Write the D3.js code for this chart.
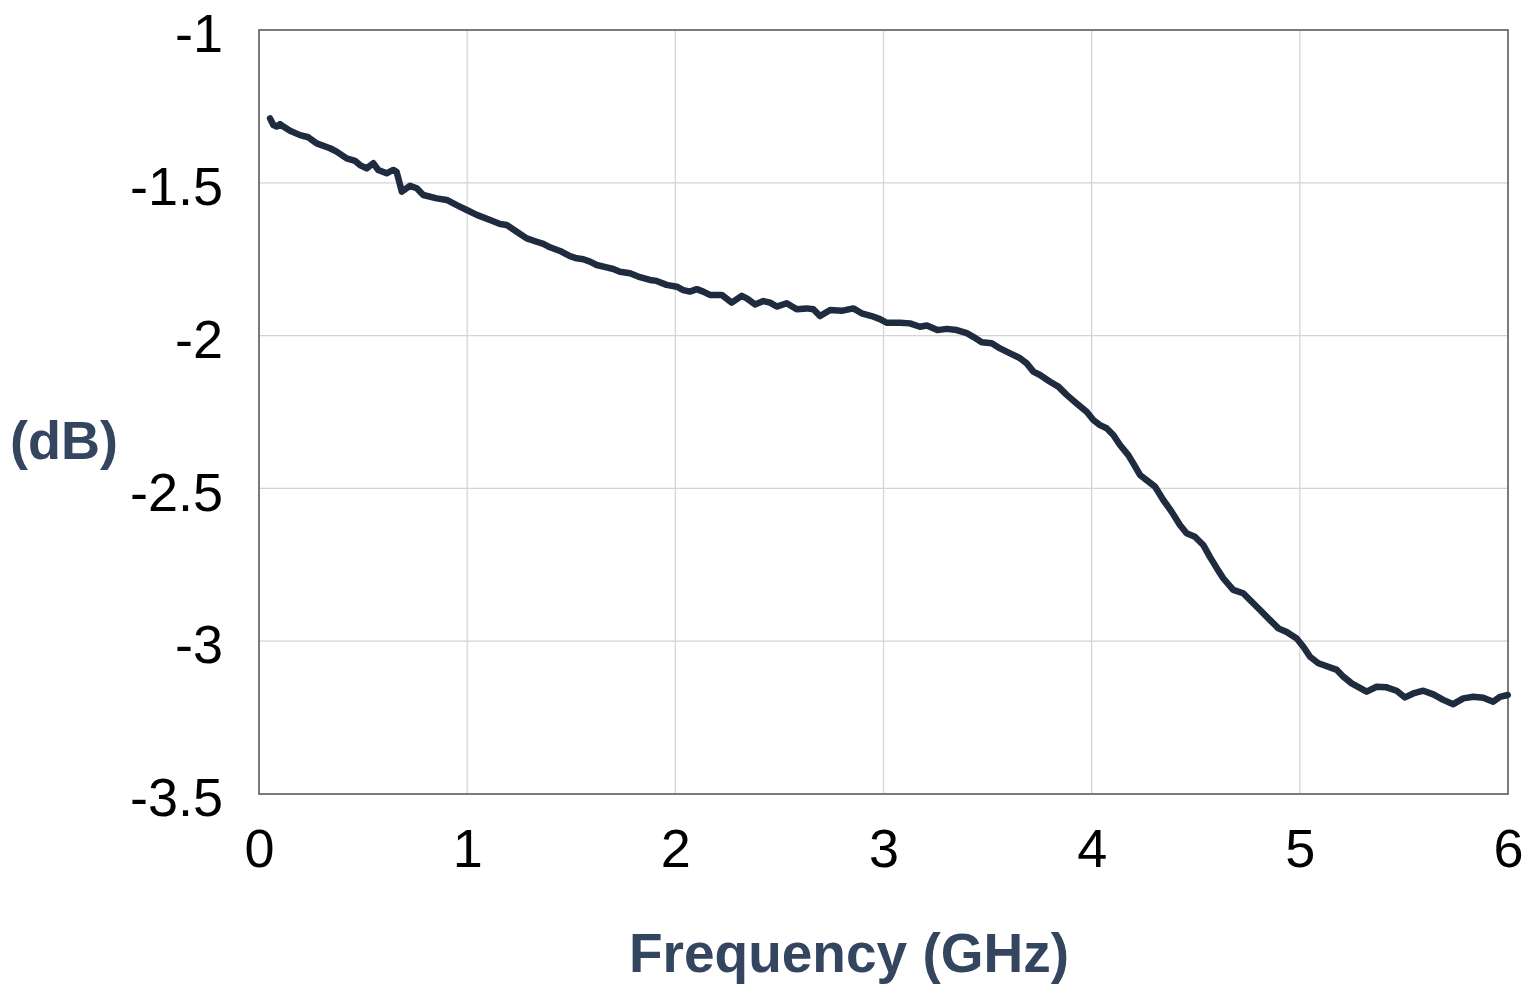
<!DOCTYPE html>
<html>
<head>
<meta charset="utf-8">
<script src="https://cdn.jsdelivr.net/npm/d3@7"></script>
<style>
  html, body { margin: 0; padding: 0; background: #fff; }
  svg { display: block; }
</style>
</head>
<body>
<svg id="chart" width="1536" height="997"></svg>
<script>
// ---- data ----
const freqGHz = [0.053,0.069,0.085,0.101,0.117,0.149,0.197,0.237,0.277,0.341,0.373,0.421,0.461,0.485,0.517,0.549,0.573,0.613,0.645,0.661,0.686,0.725,0.758,0.789,0.854,0.902,0.950,0.998,1.046,1.110,1.158,1.190,1.238,1.286,1.334,1.366,1.398,1.446,1.494,1.526,1.558,1.590,1.622,1.670,1.702,1.734,1.782,1.830,1.878,1.910,1.958,2.007,2.038,2.070,2.103,2.134,2.166,2.223,2.271,2.319,2.343,2.383,2.423,2.455,2.487,2.535,2.583,2.631,2.663,2.695,2.744,2.799,2.855,2.895,2.943,2.983,3.015,3.079,3.127,3.175,3.208,3.259,3.304,3.352,3.400,3.431,3.472,3.520,3.560,3.608,3.656,3.688,3.720,3.752,3.800,3.840,3.880,3.928,3.976,4.008,4.040,4.072,4.104,4.136,4.176,4.200,4.232,4.264,4.304,4.344,4.384,4.424,4.456,4.496,4.536,4.568,4.601,4.632,4.680,4.728,4.769,4.809,4.857,4.897,4.937,4.985,5.017,5.049,5.089,5.113,5.178,5.209,5.249,5.321,5.369,5.417,5.465,5.505,5.545,5.593,5.641,5.689,5.737,5.785,5.833,5.881,5.929,5.961,5.999];
const lossDB = [-1.289,-1.311,-1.316,-1.308,-1.316,-1.330,-1.344,-1.351,-1.371,-1.387,-1.398,-1.420,-1.428,-1.442,-1.453,-1.436,-1.458,-1.469,-1.458,-1.464,-1.529,-1.510,-1.518,-1.540,-1.551,-1.556,-1.573,-1.589,-1.605,-1.622,-1.635,-1.638,-1.660,-1.682,-1.693,-1.700,-1.711,-1.723,-1.740,-1.747,-1.750,-1.758,-1.769,-1.777,-1.782,-1.791,-1.796,-1.809,-1.818,-1.821,-1.834,-1.840,-1.851,-1.856,-1.848,-1.856,-1.867,-1.867,-1.892,-1.870,-1.878,-1.898,-1.887,-1.892,-1.905,-1.894,-1.914,-1.911,-1.914,-1.936,-1.916,-1.919,-1.911,-1.927,-1.936,-1.946,-1.958,-1.958,-1.960,-1.971,-1.967,-1.982,-1.978,-1.982,-1.992,-2.004,-2.022,-2.025,-2.042,-2.058,-2.074,-2.091,-2.118,-2.129,-2.151,-2.167,-2.194,-2.222,-2.249,-2.276,-2.293,-2.303,-2.325,-2.358,-2.391,-2.418,-2.456,-2.473,-2.494,-2.538,-2.576,-2.620,-2.647,-2.658,-2.685,-2.724,-2.761,-2.794,-2.832,-2.843,-2.871,-2.898,-2.931,-2.958,-2.970,-2.991,-3.018,-3.051,-3.072,-3.078,-3.094,-3.116,-3.138,-3.165,-3.149,-3.151,-3.162,-3.184,-3.171,-3.162,-3.174,-3.192,-3.206,-3.187,-3.182,-3.185,-3.198,-3.182,-3.176];
const xTicks = [0, 1, 2, 3, 4, 5, 6];
const yTicks = [-1, -1.5, -2, -2.5, -3, -3.5];
const xTitle = "Frequency (GHz)";
const yTitle = "(dB)";

// ---- layout ----
const svg = d3.select("#chart");
const L = 259, R = 1508, T = 30, B = 794;
const x = d3.scaleLinear().domain([0, 6]).range([L, R]);
const y = d3.scaleLinear().domain([-3.5, -1]).range([B, T]);
const font = "'Liberation Sans', Arial, Helvetica, sans-serif";

// gridlines
svg.append("g").selectAll("line").data(xTicks.slice(1, -1)).join("line")
  .attr("x1", d => x(d)).attr("x2", d => x(d)).attr("y1", T).attr("y2", B)
  .attr("stroke", "#d3d3d3").attr("stroke-width", 1.2);
svg.append("g").selectAll("line").data(yTicks.slice(1, -1)).join("line")
  .attr("x1", L).attr("x2", R).attr("y1", d => y(d)).attr("y2", d => y(d))
  .attr("stroke", "#d3d3d3").attr("stroke-width", 1.2);

// frame
svg.append("rect").attr("x", L).attr("y", T).attr("width", R - L).attr("height", B - T)
  .attr("fill", "none").attr("stroke", "#5a5a5a").attr("stroke-width", 1.6);

// axes (labels only)
const yAxis = svg.append("g").attr("transform", `translate(${L},0)`)
  .call(d3.axisLeft(y).tickValues(yTicks).tickSize(0).tickPadding(36).tickFormat(d => String(d)));
yAxis.select(".domain").remove();
yAxis.selectAll("text").attr("font-family", font).attr("font-size", 54).attr("fill", "#000")
  .attr("dy", "0.40em");

const xAxis = svg.append("g").attr("transform", `translate(0,${B})`)
  .call(d3.axisBottom(x).tickValues(xTicks).tickSize(0).tickPadding(35).tickFormat(d => String(d)));
xAxis.select(".domain").remove();
xAxis.selectAll("text").attr("font-family", font).attr("font-size", 54).attr("fill", "#000");

// line
const line = d3.line().x((d, i) => x(freqGHz[i])).y(d => y(d)).curve(d3.curveLinear);
svg.append("path").datum(lossDB).attr("d", line)
  .attr("fill", "none").attr("stroke", "#1f2b3e").attr("stroke-width", 6.5)
  .attr("stroke-linejoin", "round").attr("stroke-linecap", "round");

// titles
svg.append("text").attr("x", 849).attr("y", 972).attr("text-anchor", "middle")
  .attr("font-family", font).attr("font-weight", "bold").attr("font-size", 55)
  .attr("fill", "#344560").text(xTitle);
svg.append("text").attr("x", 64).attr("y", 459).attr("text-anchor", "middle")
  .attr("font-family", font).attr("font-weight", "bold").attr("font-size", 54)
  .attr("fill", "#344560").text(yTitle);
</script>
</body>
</html>
